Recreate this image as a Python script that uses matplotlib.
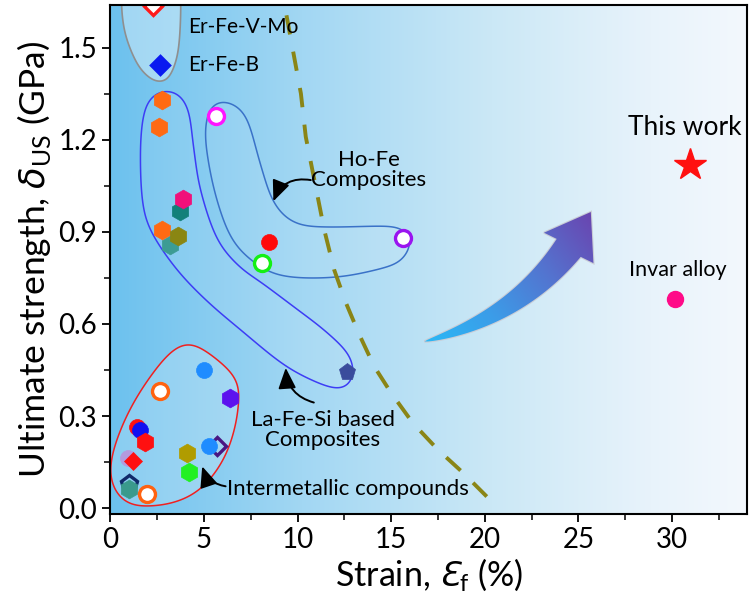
import numpy as np
import matplotlib
matplotlib.use("Agg")
import matplotlib.pyplot as plt
from matplotlib.colors import LinearSegmentedColormap
from matplotlib.patches import Polygon
from matplotlib.ticker import MultipleLocator

plt.rcParams['font.family'] = ['Lato', 'DejaVu Sans']
plt.rcParams['mathtext.fontset'] = 'custom'
plt.rcParams['mathtext.rm'] = 'Lato'
plt.rcParams['mathtext.it'] = 'DejaVu Sans:italic'

# strain (%) and ultimate strength (GPa)
er_strain = [2.28, 2.68]
er_strength = [1.635, 1.443]

lafesi_strain = [2.77, 2.59, 3.75, 3.87, 3.18, 2.77, 3.61, 12.62]
lafesi_strength = [1.329, 1.242, 0.969, 1.006, 0.857, 0.906, 0.887, 0.442]

hofe_strain = [5.66, 8.50, 8.09, 15.62]
hofe_strength = [1.278, 0.866, 0.800, 0.881]

inter_strain = [5.0, 2.68, 6.39, 1.43, 1.61, 1.87, 5.71, 5.27, 4.11, 0.93, 1.2, 4.2, 0.98, 0.98, 1.96]
inter_strength = [0.451, 0.380, 0.358, 0.263, 0.255, 0.215, 0.201, 0.203, 0.180, 0.163, 0.152,
                  0.117, 0.078, 0.062, 0.047]

this_work = (30.97, 1.118)
invar = (30.17, 0.682)

# strength-ductility trade-off guide line
guide_strain = [9.41, 10.18, 10.44, 11.43, 11.96, 12.59, 13.30, 14.10, 15.0, 16.16, 17.50, 18.84, 20.18, 20.46]
guide_strength = [1.606, 1.351, 1.210, 0.906, 0.776, 0.668, 0.565, 0.461, 0.375, 0.277, 0.190, 0.115, 0.033, 0.018]

# marker styles (marker, face, edge)
er_style = [('D', 'white', '#ff1a1a'), ('D', '#0a1af0', '#0a1af0')]
lafesi_style = [('h', '#ff6a13', None), ('h', '#ff6a13', None), ('h', '#12807a', None),
                ('h', '#f0107a', None), ('h', '#3c9c94', None), ('h', '#ff6a13', None),
                ('h', '#8a8612', None), ('p', '#3a4c9c', None)]
hofe_style = [('o', 'white', '#ff14ff'), ('o', '#ff0a0a', None), ('o', 'white', '#14f014'),
              ('o', 'white', '#9a14f0')]
inter_style = [('o', '#1f8cff', None), ('o', 'white', '#ff6210'), ('h', '#5c12ee', None),
               ('o', '#ff1010', None), ('o', '#1010f0', None), ('h', '#ff1010', None),
               ('D', 'none', '#4a1682'), ('o', '#1f8cff', None), ('h', '#b09c00', None),
               ('o', '#b49ade', None), ('D', '#ff1010', None), ('h', '#22f022', None),
               ('p', 'none', '#102a6a'), ('h', '#3a9a8c', None), ('o', 'white', '#ff6210')]

fig, ax = plt.subplots(figsize=(7.5, 6.1), dpi=100)
fig.subplots_adjust(left=0.147, right=0.996, bottom=0.157, top=0.992)

xlim = (0, 34)
ylim = (-0.02, 1.64)

bg = LinearSegmentedColormap.from_list('bg', [(0, '#6cc1ee'), (0.3, '#a2d7f3'), (0.6, '#cbe8f6'),
                                              (0.85, '#e8f3fb'), (1, '#f3f8fd')])
ax.imshow(np.linspace(0, 1, 256).reshape(1, -1), extent=[*xlim, *ylim], aspect='auto',
          cmap=bg, zorder=0, interpolation='bicubic')
ax.set_xlim(*xlim)
ax.set_ylim(*ylim)


def smooth_loop(xs, ys, sigma=8, n=24):
    # closed Catmull-Rom curve in screen space, then gaussian smoothing along its length
    pts = ax.transData.transform(np.column_stack([xs, ys]))
    m = len(pts)
    t = np.linspace(0, 1, n, endpoint=False)[:, None]
    out = []
    for i in range(m):
        p0, p1, p2, p3 = pts[(i - 1) % m], pts[i], pts[(i + 1) % m], pts[(i + 2) % m]
        out.append(0.5 * (2 * p1 + (-p0 + p2) * t + (2 * p0 - 5 * p1 + 4 * p2 - p3) * t ** 2
                          + (-p0 + 3 * p1 - 3 * p2 + p3) * t ** 3))
    dense = np.vstack(out)
    closed = np.vstack([dense, dense[:1]])
    s = np.concatenate([[0], np.cumsum(np.hypot(*np.diff(closed, axis=0).T))])
    N = 1024
    u = np.linspace(0, s[-1], N, endpoint=False)
    z = np.interp(u, s, closed[:, 0]) + 1j * np.interp(u, s, closed[:, 1])
    k = np.fft.fftfreq(N, 1 / N)
    f = np.fft.fft(z) * np.exp(-0.5 * (2 * np.pi * k * sigma / s[-1]) ** 2)
    z = np.fft.ifft(f)
    return ax.transData.inverted().transform(np.column_stack([z.real, z.imag]))


# group outlines
er_loop = smooth_loop([0.80, 1.43, 2.14, 2.77, 3.21, 3.60, 3.75, 3.72, 3.4, 2.6, 1.5, 0.75, 0.6],
                      [1.546, 1.449, 1.400, 1.389, 1.411, 1.481, 1.590, 1.70, 1.80, 1.85, 1.82, 1.74, 1.65],
                      sigma=5)
ax.add_patch(Polygon(er_loop, closed=True, facecolor=(1, 1, 1, 0.35), edgecolor='#8f8f8f', lw=1.2, zorder=2))

lafesi_loop = smooth_loop(
    [2.84, 3.64, 4.18, 4.45, 4.82, 5.73, 6.96, 8.03, 10.02, 11.41, 12.69, 13.02, 12.86, 12.32,
     11.09, 9.27, 6.96, 5.09, 3.48, 2.14, 1.71, 1.61, 1.77, 2.14],
    [1.362, 1.352, 1.297, 1.176, 1.036, 0.874, 0.783, 0.737, 0.646, 0.581, 0.506, 0.451, 0.408, 0.386,
     0.408, 0.467, 0.581, 0.679, 0.783, 0.906, 1.004, 1.167, 1.281, 1.339],
    sigma=9)
ax.add_patch(Polygon(lafesi_loop, closed=True, facecolor=(1, 1, 1, 0.08), edgecolor='#3d3df5', lw=1.1, zorder=2))

hofe_loop = smooth_loop(
    [5.09, 5.46, 6.27, 7.23, 8.03, 8.73, 9.80, 11.41, 15.0, 15.80, 16.12, 15.64, 15.0, 12.16, 9.11,
     7.50, 6.43, 5.62, 5.14],
    [1.254, 1.320, 1.326, 1.281, 1.118, 0.994, 0.929, 0.916, 0.919, 0.906, 0.867, 0.809, 0.789, 0.753,
     0.757, 0.809, 0.883, 1.020, 1.167],
    sigma=10)
ax.add_patch(Polygon(hofe_loop, closed=True, facecolor=(1, 1, 1, 0.08), edgecolor='#3a72c8', lw=1.1, zorder=2))

inter_loop = smooth_loop(
    [4.46, 6.70, 6.87, 6.64, 6.0, 4.82, 3.48, 2.14, 0.89, 0.09, 0.0, 0.54, 1.43, 2.68, 3.57],
    [0.538, 0.429, 0.353, 0.255, 0.151, 0.060, 0.018, 0.006, 0.011, 0.071, 0.147, 0.255, 0.364, 0.473, 0.527],
    sigma=12)
ax.add_patch(Polygon(inter_loop, closed=True, facecolor=(1, 1, 1, 0.2), edgecolor='#f02020', lw=1.1, zorder=2))

# guide line
ax.plot(guide_strain, guide_strength, color='#8a8516', lw=2.8, dashes=(5, 4.5), zorder=3)

sizes = {'o': 11.5, 'h': 13.5, 'D': 9, 'p': 12.5}


def draw(xs, ys, styles):
    for x, y, (m, fc, ec) in zip(xs, ys, styles):
        open_m = ec is not None
        ax.plot(x, y, marker=m, ms=sizes[m], mfc=fc, mec=ec if open_m else fc,
                mew=2.4 if open_m else 0.5, ls='none', zorder=5)


draw(er_strain, er_strength, er_style)
draw(lafesi_strain, lafesi_strength, lafesi_style)
draw(hofe_strain, hofe_strength, hofe_style)
draw(inter_strain, inter_strength, inter_style)

ax.plot(*this_work, marker='*', ms=24, color='#ff1010', mec='#ff1010', ls='none', zorder=5)
ax.plot(*invar, marker='o', ms=11.5, color='#ff0a88', ls='none', zorder=5)

# big gradient arrow
tr = ax.transData
p0, c, p2, tip = tr.transform([(16.78, 0.543), (21.69, 0.620), (24.48, 0.848), (25.66, 0.965)])
t = np.linspace(0, 1, 60)[:, None]
centre = (1 - t) ** 2 * p0 + 2 * (1 - t) * t * c + t ** 2 * p2
deriv = 2 * (1 - t) * (c - p0) + 2 * t * (p2 - c)
normal = np.column_stack([-deriv[:, 1], deriv[:, 0]])
normal /= np.linalg.norm(normal, axis=1)[:, None]
half = 15 * t ** 0.7
left = centre + normal * half
right = centre - normal * half
head_dir = (tip - p2) / np.linalg.norm(tip - p2)
head_n = np.array([-head_dir[1], head_dir[0]])
arrow_pts = np.vstack([left, [p2 + head_n * 29], [tip], [p2 - head_n * 29], right[::-1]])
arrow = Polygon(tr.inverted().transform(arrow_pts), closed=True, facecolor='none',
                edgecolor='#c9cdd6', lw=1.6, zorder=4)
ax.add_patch(arrow)
gx, gy = np.meshgrid(np.linspace(16.5, 26.5, 200), np.linspace(0.5, 1.0, 120))
g = tr.transform(np.column_stack([gx.ravel(), gy.ravel()]))
d = (tip - p0) / np.linalg.norm(tip - p0)
proj = ((g - p0) @ d) / np.linalg.norm(tip - p0)
acmap = LinearSegmentedColormap.from_list('arr', ['#2ab8f6', '#3c9ce8', '#5473cf', '#6a45b0'])
im = ax.imshow(proj.reshape(gx.shape), extent=[16.5, 26.5, 0.5, 1.0], origin='lower', aspect='auto',
               cmap=acmap, vmin=0, vmax=1, zorder=4)
im.set_clip_path(arrow)
ax.set_xlim(*xlim)
ax.set_ylim(*ylim)

# labels
fs = 16
ax.text(4.18, 1.567, 'Er-Fe-V-Mo', fontsize=15, va='center', zorder=6)
ax.text(4.18, 1.443, 'Er-Fe-B', fontsize=15, va='center', zorder=6)
ax.text(13.79, 1.101, 'Ho-Fe\nComposites', fontsize=fs, ha='center', va='center', linespacing=1.0, zorder=6)
ax.text(11.36, 0.255, 'La-Fe-Si based\nComposites', fontsize=fs, ha='center', va='center', linespacing=1.0, zorder=6)
ax.text(6.25, 0.063, 'Intermetallic compounds', fontsize=fs, va='center', zorder=6)
ax.text(30.7, 1.242, 'This work', fontsize=19, ha='center', va='center', zorder=6)
ax.text(30.3, 0.776, 'Invar alloy', fontsize=15.5, ha='center', va='center', zorder=6)

aprops = dict(arrowstyle='-|>,head_length=0.7,head_width=0.3', color='black', lw=1.4,
              mutation_scale=18, shrinkA=0, shrinkB=0)
ax.annotate('', xy=(8.71, 1.0), xytext=(10.71, 1.069),
            arrowprops=dict(aprops, connectionstyle='arc3,rad=0.4'), zorder=6)
ax.annotate('', xy=(9.37, 0.457), xytext=(10.87, 0.344),
            arrowprops=dict(aprops, connectionstyle='arc3,rad=-0.35'), zorder=6)
ax.annotate('', xy=(4.91, 0.136), xytext=(6.16, 0.071),
            arrowprops=dict(aprops, connectionstyle='arc3,rad=-0.3'), zorder=6)

ax.set_xlabel(r'Strain, $\mathit{Ɛ}_\mathrm{f}$ (%)', fontsize=24.5, labelpad=2)
ax.set_ylabel(r'Ultimate strength, $\delta_\mathrm{US}$ (GPa)', fontsize=25.5, labelpad=4)
ax.xaxis.set_major_locator(MultipleLocator(5))
ax.xaxis.set_minor_locator(MultipleLocator(2.5))
ax.yaxis.set_major_locator(MultipleLocator(0.3))
ax.yaxis.set_minor_locator(MultipleLocator(0.15))
ax.yaxis.set_major_formatter(plt.FuncFormatter(lambda v, p: f'{v:.1f}'))
ax.tick_params(which='major', length=6, width=1.3, labelsize=20)
ax.tick_params(which='minor', length=4, width=1.1)
for s in ax.spines.values():
    s.set_linewidth(1.5)
    s.set_zorder(7)

fig.savefig('out.png', dpi=100)
